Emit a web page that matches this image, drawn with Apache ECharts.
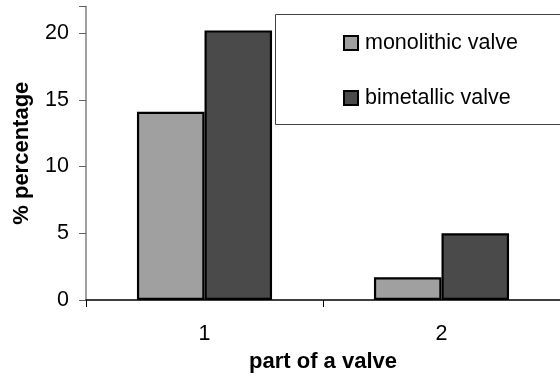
<!DOCTYPE html>
<html>
<head>
<meta charset="utf-8">
<script src="https://cdn.jsdelivr.net/npm/echarts@6/dist/echarts.min.js"></script>
<style>
  html, body { margin: 0; padding: 0; background: #fff; }
  #chart { width: 560px; height: 378px; }
</style>
</head>
<body>
<div id="chart"></div>
<script>
// Parts of a valve on the category axis
const categories = ['1', '2'];
// Share (%) for each valve type
const monolithicValues = [14.1, 1.7];
const bimetallicValues = [20.2, 5.0];
const seriesNames = ['monolithic valve', 'bimetallic valve'];
const yTicks = [0, 5, 10, 15, 20];

const FONT = '"Liberation Sans", Arial, sans-serif';
const chart = echarts.init(document.getElementById('chart'), null, { renderer: 'canvas' });

chart.setOption({
  animation: false,
  backgroundColor: '#ffffff',
  textStyle: { fontFamily: FONT },
  // plot area runs slightly past the right edge of the canvas
  grid: { left: 86, width: 478, top: 6.4, bottom: 75.7, containLabel: false },
  xAxis: {
    type: 'category',
    data: categories,
    boundaryGap: true,
    name: 'part of a valve',
    nameLocation: 'middle',
    nameGap: 51,
    nameTextStyle: { fontFamily: FONT, fontSize: 22, fontWeight: 'bold', color: '#000' },
    axisLine: { show: true, lineStyle: { color: '#000', width: 1.5 } },
    axisTick: { show: true, alignWithLabel: false, length: 7, lineStyle: { color: '#000', width: 1 } },
    axisLabel: { fontFamily: FONT, fontSize: 21.5, color: '#000', margin: 23 },
    splitLine: { show: false }
  },
  yAxis: {
    type: 'value',
    min: yTicks[0],
    max: 22,
    interval: yTicks[1] - yTicks[0],
    name: '% percentage',
    nameLocation: 'middle',
    nameGap: 53,
    nameTextStyle: { fontFamily: FONT, fontSize: 22, fontWeight: 'bold', color: '#000' },
    axisLine: { show: true, lineStyle: { color: '#808080', width: 1.5 } },
    axisTick: { show: true, length: 7, lineStyle: { color: '#606060', width: 1 } },
    axisLabel: {
      fontFamily: FONT, fontSize: 21.5, color: '#000', margin: 17,
      formatter: v => (yTicks.includes(v) ? String(v) : '')
    },
    splitLine: { show: false }
  },
  legend: {
    orient: 'vertical',
    left: 343,
    top: 32,
    padding: 0,
    itemGap: 33,
    itemWidth: 14,
    itemHeight: 14,
    icon: 'rect',
    textStyle: { fontFamily: FONT, fontSize: 21.5, color: '#000', padding: [0, 0, 0, 2] },
    data: seriesNames,
    z: 10
  },
  graphic: [{
    type: 'rect',
    z: 5,
    shape: { x: 275.5, y: 14.5, width: 300, height: 110 },
    style: { fill: '#ffffff', stroke: '#404040', lineWidth: 1 }
  }],
  series: [
    {
      name: seriesNames[0],
      type: 'bar',
      data: monolithicValues,
      barGap: '0%',
      barCategoryGap: '43%',
      itemStyle: { color: '#a0a0a0', borderColor: '#000', borderWidth: 2.2 }
    },
    {
      name: seriesNames[1],
      type: 'bar',
      data: bimetallicValues,
      barGap: '0%',
      barCategoryGap: '43%',
      itemStyle: { color: '#4a4a4a', borderColor: '#000', borderWidth: 2.2 }
    }
  ]
});
</script>
</body>
</html>
